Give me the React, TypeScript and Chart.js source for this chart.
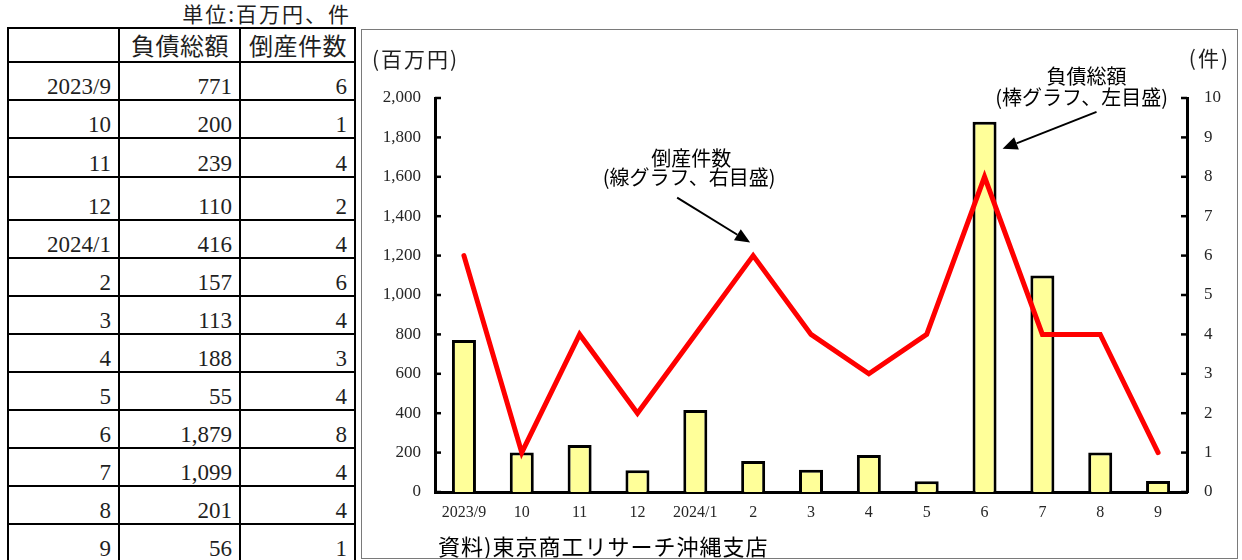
import React, { useEffect, useRef } from "react";
import { Chart, registerables } from "chart.js";

Chart.register(...registerables);

// Monthly bankruptcy figures (Okinawa)
const months = ["2023/9", "10", "11", "12", "2024/1", "2", "3", "4", "5", "6", "7", "8", "9"];
const debtTotals = [771, 200, 239, 110, 416, 157, 113, 188, 55, 1879, 1099, 201, 56];
const bankruptcyCounts = [6, 1, 4, 2, 4, 6, 4, 3, 4, 8, 4, 4, 1];

const debtAxisMax = 2000;
const debtAxisStep = 200;
const countAxisMax = 10;
const countAxisStep = 1;

const tableHeaders = ["", "負債総額", "倒産件数"];
const unitNote = "単位:百万円、件";
const leftAxisTitle = "(百万円)";
const rightAxisTitle = "(件)";
const barNote = ["負債総額", "(棒グラフ、左目盛)"];
const lineNote = ["倒産件数", "(線グラフ、右目盛)"];
const sourceNote = "資料)東京商工リサーチ沖縄支店";

// table grid lines (page px): column edges and row edges (header first)
const colEdges = [8, 119, 240, 355];
const rowEdges = [28, 62, 100, 138, 177, 220, 258, 296, 334, 372, 410, 448, 486, 524, 562];

const JP = '"Noto Sans CJK JP", "Noto Sans", sans-serif';
const SERIF = '"Liberation Serif", "DejaVu Serif", serif';
const INK = "#1f1f1f";

function drawArrow(ctx: CanvasRenderingContext2D, x0: number, y0: number, x1: number, y1: number) {
  const ang = Math.atan2(y1 - y0, x1 - x0);
  const len = 15;
  const half = 6.5;
  const bx = x1 - len * Math.cos(ang);
  const by = y1 - len * Math.sin(ang);
  ctx.strokeStyle = "#000";
  ctx.lineWidth = 2;
  ctx.beginPath();
  ctx.moveTo(x0, y0);
  ctx.lineTo(bx, by);
  ctx.stroke();
  ctx.fillStyle = "#000";
  ctx.beginPath();
  ctx.moveTo(x1, y1);
  ctx.lineTo(bx + half * Math.sin(ang), by - half * Math.cos(ang));
  ctx.lineTo(bx - half * Math.sin(ang), by + half * Math.cos(ang));
  ctx.closePath();
  ctx.fill();
}

const overlayPlugin = {
  id: "overlay",
  afterDraw(chart: any) {
    const { ctx, chartArea, scales } = chart;
    const yL = scales.yDebt;
    const yR = scales.yCount;
    const x = scales.x;
    ctx.save();

    // inward tick marks on both value axes
    ctx.strokeStyle = "#000";
    ctx.lineWidth = 2.5;
    yL.ticks.forEach((t: any) => {
      const py = yL.getPixelForValue(t.value);
      ctx.beginPath();
      ctx.moveTo(chartArea.left, py);
      ctx.lineTo(chartArea.left + 6, py);
      ctx.stroke();
    });
    yR.ticks.forEach((t: any) => {
      const py = yR.getPixelForValue(t.value);
      ctx.beginPath();
      ctx.moveTo(chartArea.right - 6, py);
      ctx.lineTo(chartArea.right, py);
      ctx.stroke();
    });

    // axis unit titles
    ctx.fillStyle = INK;
    ctx.textBaseline = "middle";
    ctx.font = `21px ${JP}`;
    (ctx as any).letterSpacing = "2px";
    ctx.textAlign = "left";
    ctx.fillText(leftAxisTitle, 10, 29);
    ctx.textAlign = "right";
    ctx.fillText(rightAxisTitle, 868, 28);
    (ctx as any).letterSpacing = "0px";

    // callout for the bars (peak month)
    const peak = debtTotals.indexOf(Math.max(...debtTotals));
    const bx = x.getPixelForValue(peak) + 18;
    const by = yL.getPixelForValue(debtTotals[peak]) + 27;
    drawArrow(ctx, bx + 94, by - 37, bx, by);
    ctx.font = `20px ${JP}`;
    ctx.textAlign = "center";
    ctx.fillText(barNote[0], bx + 84, by - 72);
    ctx.fillText(barNote[1], bx + 79, by - 51);

    // callout for the line
    const li = 5;
    const lx = x.getPixelForValue(li) - 3;
    const ly = yR.getPixelForValue(bankruptcyCounts[li]) - 13;
    drawArrow(ctx, lx - 73, ly - 45, lx, ly);
    ctx.fillText(lineNote[0], lx - 59, ly - 84);
    ctx.fillText(lineNote[1], lx - 61, ly - 65);

    // source
    ctx.font = `22px ${JP}`;
    (ctx as any).letterSpacing = "1px";
    ctx.textAlign = "left";
    ctx.fillText(sourceNote, 76, 517);
    (ctx as any).letterSpacing = "0px";

    ctx.restore();
  },
};

function BankruptcyChart() {
  const ref = useRef<HTMLCanvasElement | null>(null);
  useEffect(() => {
    if (!ref.current) return;
    const chart = new Chart(ref.current, {
      type: "bar",
      data: {
        labels: months,
        datasets: [
          {
            type: "line",
            label: "倒産件数",
            data: bankruptcyCounts,
            yAxisID: "yCount",
            borderColor: "#ff0000",
            borderWidth: 5,
            pointRadius: 0,
            tension: 0,
            borderCapStyle: "round",
            order: 0,
          } as any,
          {
            type: "bar",
            label: "負債総額",
            data: debtTotals,
            yAxisID: "yDebt",
            backgroundColor: "#ffff99",
            borderColor: "#000",
            borderWidth: 3,
            categoryPercentage: 1,
            barPercentage: 0.415,
            order: 1,
          } as any,
        ],
      },
      options: {
        responsive: false,
        animation: false,
        locale: "en-US",
        layout: { padding: { top: 68, left: 0, right: 0, bottom: 0 } },
        plugins: { legend: { display: false }, tooltip: { enabled: false } },
        scales: {
          x: {
            offset: true,
            grid: { display: false },
            border: { display: true, color: "#000", width: 3 },
            ticks: { color: "#262626", font: { family: SERIF, size: 16 }, padding: 3, maxRotation: 0 },
            afterFit: (s: any) => {
              s.height = 66;
            },
          },
          yDebt: {
            position: "left",
            min: 0,
            max: debtAxisMax,
            grid: { display: false },
            border: { display: true, color: "#000", width: 3 },
            ticks: { stepSize: debtAxisStep, color: "#262626", font: { family: SERIF, size: 17 }, padding: 6 },
            afterFit: (s: any) => {
              s.width = 73;
            },
          },
          yCount: {
            position: "right",
            min: 0,
            max: countAxisMax,
            grid: { display: false },
            border: { display: true, color: "#000", width: 3 },
            ticks: { stepSize: countAxisStep, color: "#262626", font: { family: SERIF, size: 17 }, padding: 9 },
            afterFit: (s: any) => {
              s.width = 50;
            },
          },
        },
      } as any,
      plugins: [overlayPlugin],
    });
    return () => chart.destroy();
  }, []);
  return <canvas ref={ref} width={875} height={528} style={{ display: "block" }} />;
}

function Cell(props: { r: number; c: number; text: string; header?: boolean }) {
  const { r, c, text, header } = props;
  const left = colEdges[c] - 1;
  const top = rowEdges[r] - 1;
  const width = colEdges[c + 1] - colEdges[c] + 2;
  const height = rowEdges[r + 1] - rowEdges[r] + 2;
  const box: React.CSSProperties = {
    position: "absolute",
    left,
    top,
    width,
    height,
    boxSizing: "border-box",
    border: "2px solid #000",
    color: INK,
    whiteSpace: "nowrap",
  };
  if (header) {
    return (
      <div
        style={{
          ...box,
          display: "flex",
          alignItems: "center",
          justifyContent: "center",
          fontFamily: JP,
          fontSize: 24,
          letterSpacing: 0.5,
          lineHeight: "26px",
          paddingLeft: 1,
        }}
      >
        {text}
      </div>
    );
  }
  return (
    <div style={box}>
      <span
        style={{
          position: "absolute",
          right: 7,
          bottom: 2,
          fontFamily: SERIF,
          fontSize: 23,
          lineHeight: "20px",
        }}
      >
        {text}
      </span>
    </div>
  );
}

function DataTable() {
  const cells: React.ReactNode[] = [];
  tableHeaders.forEach((h, c) => cells.push(<Cell key={`h${c}`} r={0} c={c} text={h} header />));
  months.forEach((m, i) => {
    cells.push(<Cell key={`m${i}`} r={i + 1} c={0} text={m} />);
    cells.push(<Cell key={`d${i}`} r={i + 1} c={1} text={debtTotals[i].toLocaleString("en-US")} />);
    cells.push(<Cell key={`n${i}`} r={i + 1} c={2} text={String(bankruptcyCounts[i])} />);
  });
  return <>{cells}</>;
}

export default function App() {
  return (
    <div
      style={{
        position: "fixed",
        left: 0,
        top: 0,
        width: 1242,
        height: 560,
        overflow: "hidden",
        background: "#fff",
      }}
    >
      <div
        style={{
          position: "absolute",
          right: 1242 - 351,
          top: 1,
          fontFamily: JP,
          fontSize: 21,
          letterSpacing: 2,
          lineHeight: "24px",
          color: INK,
          whiteSpace: "nowrap",
        }}
      >
        {unitNote}
      </div>
      <DataTable />
      <div
        style={{
          position: "absolute",
          left: 361,
          top: 29,
          width: 877,
          height: 530,
          boxSizing: "border-box",
          border: "1px solid #7a7a7a",
        }}
      >
        <BankruptcyChart />
      </div>
    </div>
  );
}
